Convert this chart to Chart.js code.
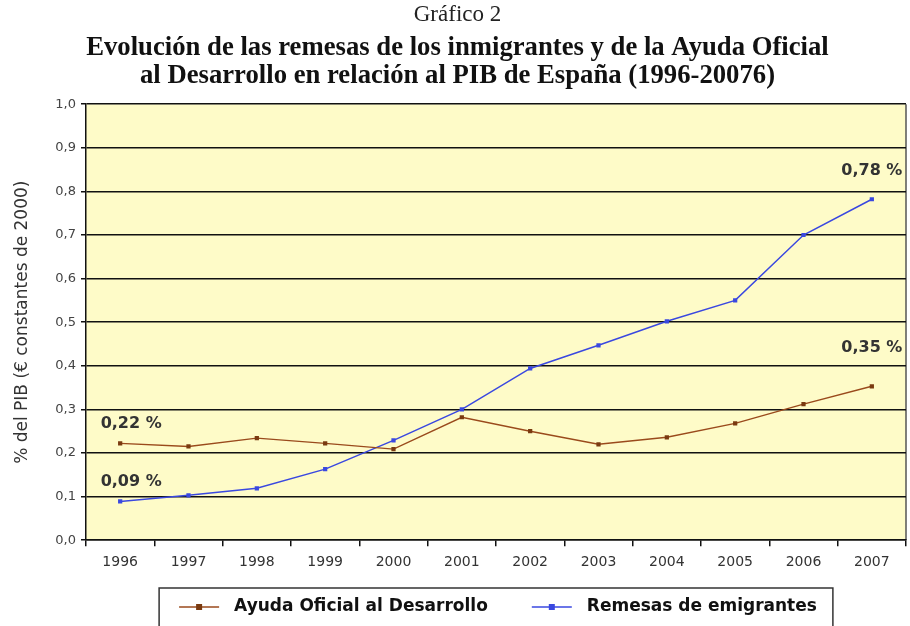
<script src="https://cdn.jsdelivr.net/npm/chart.js"></script>
<style>
  html, body { margin: 0; padding: 0; background: #fff; }
  #wrap { width: 910px; height: 626px; }
</style>
<div id="wrap"><canvas id="grafico"></canvas></div>
<script>
  const years = ['1996', '1997', '1998', '1999', '2000', '2001', '2002', '2003', '2004', '2005', '2006', '2007'];
  const ayuda = [0.222, 0.215, 0.234, 0.222, 0.209, 0.282, 0.250, 0.220, 0.236, 0.268, 0.312, 0.353];
  const remesas = [0.089, 0.103, 0.119, 0.163, 0.229, 0.300, 0.394, 0.447, 0.502, 0.550, 0.700, 0.782];
  const yTicks = [0, 0.1, 0.2, 0.3, 0.4, 0.5, 0.6, 0.7, 0.8, 0.9, 1.0];

  const brown = '#9a4a1c';
  const blue = '#3a48e0';
  const SANS = '"DejaVu Sans", Verdana, sans-serif';
  const SERIF = '"Liberation Serif", "Times New Roman", serif';

  // pale yellow plot background + right border
  const plotBg = {
    id: 'plotBg',
    beforeDraw(chart) {
      const a = chart.chartArea, ctx = chart.ctx;
      ctx.save();
      ctx.fillStyle = '#fefbc8';
      ctx.fillRect(a.left, a.top, a.right - a.left, a.bottom - a.top);
      ctx.strokeStyle = '#555';
      ctx.lineWidth = 1.5;
      ctx.beginPath();
      ctx.moveTo(a.right, a.top); ctx.lineTo(a.right, a.bottom);
      ctx.stroke();
      ctx.restore();
    }
  };

  // first/last value labels
  const endLabels = {
    id: 'endLabels',
    afterDatasetsDraw(chart) {
      const ctx = chart.ctx, x = chart.scales.x, y = chart.scales.y;
      const fmt = v => v.toFixed(2).replace('.', ',') + ' %';
      const last = years.length - 1;
      const items = [
        [0, ayuda[0], 11, -20],
        [0, remesas[0], 11, -20],
        [last, ayuda[last], 0, -38],
        [last, remesas[last], 0, -28]
      ];
      ctx.save();
      ctx.font = 'bold 16px ' + SANS;
      ctx.fillStyle = '#333';
      ctx.textAlign = 'center';
      ctx.textBaseline = 'middle';
      items.forEach(([i, v, dx, dy]) => {
        ctx.fillText(fmt(v), x.getPixelForValue(i) + dx, y.getPixelForValue(v) + dy);
      });
      ctx.restore();
    }
  };

  // boxed legend under the axis
  const boxLegend = {
    id: 'boxLegend',
    afterDraw(chart) {
      const ctx = chart.ctx, a = chart.chartArea;
      const lineW = 40, gap = 15, itemGap = 44;
      ctx.save();
      ctx.font = 'bold 17px ' + SANS;
      const items = chart.data.datasets.map(ds => ({
        label: ds.label, color: ds.borderColor, dot: ds.backgroundColor,
        w: lineW + gap + ctx.measureText(ds.label).width
      }));
      const total = items.reduce((s, it) => s + it.w, 0) + itemGap * (items.length - 1);
      const cx = (a.left + a.right) / 2 + 2;
      let x = cx - total / 2;
      const cy = 607;
      ctx.strokeStyle = '#333';
      ctx.lineWidth = 1.5;
      ctx.strokeRect(x - 20, 588, total + 36, 60);
      ctx.textBaseline = 'middle';
      ctx.textAlign = 'left';
      items.forEach(it => {
        ctx.strokeStyle = it.color;
        ctx.lineWidth = 1.5;
        ctx.beginPath(); ctx.moveTo(x, cy); ctx.lineTo(x + lineW, cy); ctx.stroke();
        ctx.fillStyle = it.dot;
        ctx.fillRect(x + lineW / 2 - 3, cy - 3, 6, 6);
        ctx.fillStyle = '#111';
        ctx.fillText(it.label, x + lineW + gap, cy);
        x += it.w + itemGap;
      });
      ctx.restore();
    }
  };

  new Chart(document.getElementById('grafico'), {
    type: 'line',
    data: {
      labels: years,
      datasets: [
        {
          label: 'Ayuda Oficial al Desarrollo',
          data: ayuda,
          borderColor: brown,
          backgroundColor: '#7a3a10',
          borderWidth: 1.4,
          pointStyle: 'rect',
          pointRadius: 3,
          pointBorderWidth: 0,
          tension: 0
        },
        {
          label: 'Remesas de emigrantes',
          data: remesas,
          borderColor: blue,
          backgroundColor: '#3a48e0',
          borderWidth: 1.5,
          pointStyle: 'rect',
          pointRadius: 3,
          pointBorderWidth: 0,
          tension: 0
        }
      ]
    },
    options: {
      responsive: true,
      maintainAspectRatio: false,
      animation: false,
      layout: { padding: { left: 6, right: 1, top: 1, bottom: 47 } },
      plugins: {
        title: {
          display: true,
          text: 'Gráfico 2',
          color: '#222',
          font: { family: SERIF, size: 23, weight: 'normal', lineHeight: 1.2 },
          padding: { top: 0, bottom: 5 }
        },
        subtitle: {
          display: true,
          text: ['Evolución de las remesas de los inmigrantes y de la Ayuda Oficial',
                 'al Desarrollo en relación al PIB de España (1996-20076)'],
          color: '#111',
          font: { family: SERIF, size: 26.7, weight: 'bold', lineHeight: 1.06 },
          padding: { top: 0, bottom: 14 }
        },
        legend: { display: false },
        tooltip: { enabled: false }
      },
      scales: {
        x: {
          offset: true,
          grid: {
            offset: true,
            drawOnChartArea: false,
            drawTicks: true,
            tickLength: 6,
            color: '#111',
            lineWidth: 1.5
          },
          border: { color: '#111', width: 1.5 },
          ticks: {
            color: '#333',
            font: { family: SANS, size: 14 },
            padding: 8,
            maxRotation: 0
          }
        },
        y: {
          min: 0,
          max: 1,
          afterBuildTicks(axis) { axis.ticks = yTicks.map(v => ({ value: v })); },
          afterFit(axis) { axis.width = 80; },
          grid: {
            color: '#111',
            lineWidth: 1.5,
            tickLength: 5
          },
          border: { color: '#111', width: 1.5 },
          ticks: {
            color: '#444',
            font: { family: SANS, size: 13 },
            padding: 5,
            callback: v => v.toFixed(1).replace('.', ',')
          },
          title: {
            display: true,
            text: '% del PIB (€ constantes de 2000)',
            color: '#333',
            font: { family: SANS, size: 17 },
            padding: { top: 6, bottom: 10 }
          }
        }
      }
    },
    plugins: [plotBg, endLabels, boxLegend]
  });
</script>
